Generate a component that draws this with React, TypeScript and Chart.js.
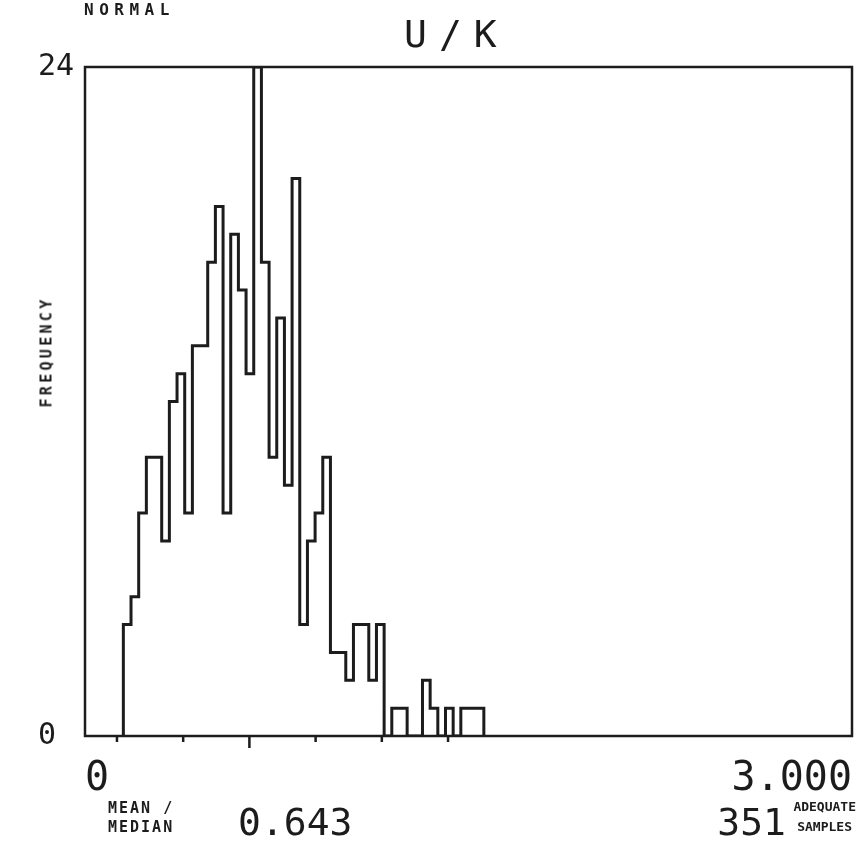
import React, { useEffect, useRef } from "react";
import { Chart, registerables } from "chart.js";

Chart.register(...registerables);

// ---- data ----
const binStart = 0.15;
const binWidth = 0.03;
const counts = [
  4, 5, 8, 10, 10, 7, 12, 13, 8, 14, 14, 17, 19, 8, 18, 16, 13, 24, 17, 10, 15, 9, 20, 4,
  7, 8, 10, 3, 3, 2, 4, 4, 2, 4, 0, 1, 1, 0, 0, 2, 1, 0, 1, 0, 1, 1, 1,
];
const yTickValues = [0, 24];
const yTickLabels = ["0", "24"];
const xTickValues = [0, 3];
const xTickLabels = ["0", "3.000"];
const sdTickValues = [0.125, 0.384, 0.643, 0.902, 1.161, 1.42];
const meanMedian = 0.643;
const meanMedianLabel = "0.643";
const adequateSamples = "351";
const title = "U/K";

const INK = "#1c1c1c";
const MONO = "'DejaVu Sans Mono', 'Liberation Mono', monospace";

function buildPoints() {
  const pts: { x: number; y: number }[] = [];
  pts.push({ x: binStart, y: 0 });
  counts.forEach((c, i) => pts.push({ x: binStart + i * binWidth, y: c }));
  pts.push({ x: binStart + counts.length * binWidth, y: 0 });
  return pts;
}

const framePlugin = {
  id: "frame",
  afterDatasetsDraw(chart: any) {
    const { ctx, chartArea } = chart;
    const { left, top, right, bottom } = chartArea;
    const x = chart.scales.x;
    ctx.save();
    ctx.strokeStyle = INK;
    ctx.lineWidth = 2.5;
    ctx.strokeRect(left, top, right - left, bottom - top);
    for (const v of sdTickValues) {
      const px = x.getPixelForValue(v);
      ctx.beginPath();
      ctx.moveTo(px, bottom);
      ctx.lineTo(px, bottom + (v === meanMedian ? 12 : 6));
      ctx.stroke();
    }
    ctx.restore();
  },
};

export default function App() {
  const ref = useRef<HTMLCanvasElement | null>(null);
  useEffect(() => {
    if (!ref.current) return;
    const chart = new Chart(ref.current, {
      type: "line",
      data: {
        datasets: [
          {
            data: buildPoints(),
            stepped: "before",
            borderColor: INK,
            borderWidth: 3,
            pointRadius: 0,
            fill: false,
          },
        ],
      },
      options: {
        animation: false,
        responsive: false,
        devicePixelRatio: 1,
        layout: { padding: { left: 38, right: 10, top: 67, bottom: 0 } },
        plugins: {
          legend: { display: false },
          tooltip: { enabled: false },
          title: { display: false },
        },
        scales: {
          x: {
            type: "linear",
            min: 0,
            max: 3,
            grid: {
              display: true,
              drawOnChartArea: false,
              drawTicks: true,
              tickLength: 20,
              color: "rgba(0,0,0,0)",
            },
            border: { display: false },
            afterBuildTicks: (s: any) => {
              s.ticks = xTickValues.map((v) => ({ value: v }));
            },
            afterFit: (s: any) => {
              s.height = 118;
            },
            ticks: {
              align: "inner",
              autoSkip: false,
              maxRotation: 0,
              padding: 0,
              color: INK,
              font: { family: MONO, size: 40 },
              callback: (_v: any, i: number) => xTickLabels[i],
            },
          },
          y: {
            type: "linear",
            min: 0,
            max: 24,
            grid: { display: false, drawTicks: false },
            border: { display: false },
            afterBuildTicks: (s: any) => {
              s.ticks = yTickValues.map((v) => ({ value: v }));
            },
            afterFit: (s: any) => {
              s.width = 47;
            },
            ticks: {
              crossAlign: "far",
              autoSkip: false,
              padding: 0,
              color: INK,
              font: { family: MONO, size: 30 },
              callback: (_v: any, i: number) => yTickLabels[i],
            },
          },
        },
      },
      plugins: [framePlugin],
    } as any);
    return () => chart.destroy();
  }, []);

  const small: React.CSSProperties = {
    position: "absolute",
    fontFamily: MONO,
    fontSize: 15,
    fontWeight: "bold",
    lineHeight: "15px",
    letterSpacing: "2px",
    color: INK,
    whiteSpace: "nowrap",
  };
  const big: React.CSSProperties = {
    position: "absolute",
    fontFamily: MONO,
    fontSize: 38,
    lineHeight: "38px",
    color: INK,
    whiteSpace: "nowrap",
  };

  return (
    <div style={{ position: "absolute", left: 0, top: 0, width: 862, height: 854, background: "#fff", overflow: "hidden" }}>
      <canvas ref={ref} width={862} height={854} style={{ position: "absolute", left: 0, top: 0, width: 862, height: 854 }} />
      <div
        style={{
          position: "absolute",
          left: 404,
          top: 15,
          fontFamily: MONO,
          fontSize: 38,
          lineHeight: "38px",
          letterSpacing: "12px",
          color: INK,
          whiteSpace: "nowrap",
        }}
      >
        {title}
      </div>
      <div style={{ ...small, fontSize: 16, lineHeight: "16px", letterSpacing: "5.5px", left: 84, top: 2 }}>NORMAL</div>
      <div
        style={{
          ...small,
          left: 47,
          top: 352,
          letterSpacing: "3.3px",
          transform: "translate(-50%, -50%) rotate(-90deg)",
        }}
      >
        FREQUENCY
      </div>
      <div style={{ ...small, left: 108, top: 801 }}>MEAN /</div>
      <div style={{ ...small, left: 108, top: 820 }}>MEDIAN</div>
      <div style={{ ...big, left: 238, top: 803 }}>{meanMedianLabel}</div>
      <div style={{ ...big, right: 862 - 786, top: 803 }}>{adequateSamples}</div>
      <div style={{ ...small, fontSize: 13, lineHeight: "13px", letterSpacing: "0px", right: 862 - 856, top: 800 }}>ADEQUATE</div>
      <div style={{ ...small, fontSize: 13, lineHeight: "13px", letterSpacing: "0px", right: 862 - 852, top: 820 }}>SAMPLES</div>
    </div>
  );
}
